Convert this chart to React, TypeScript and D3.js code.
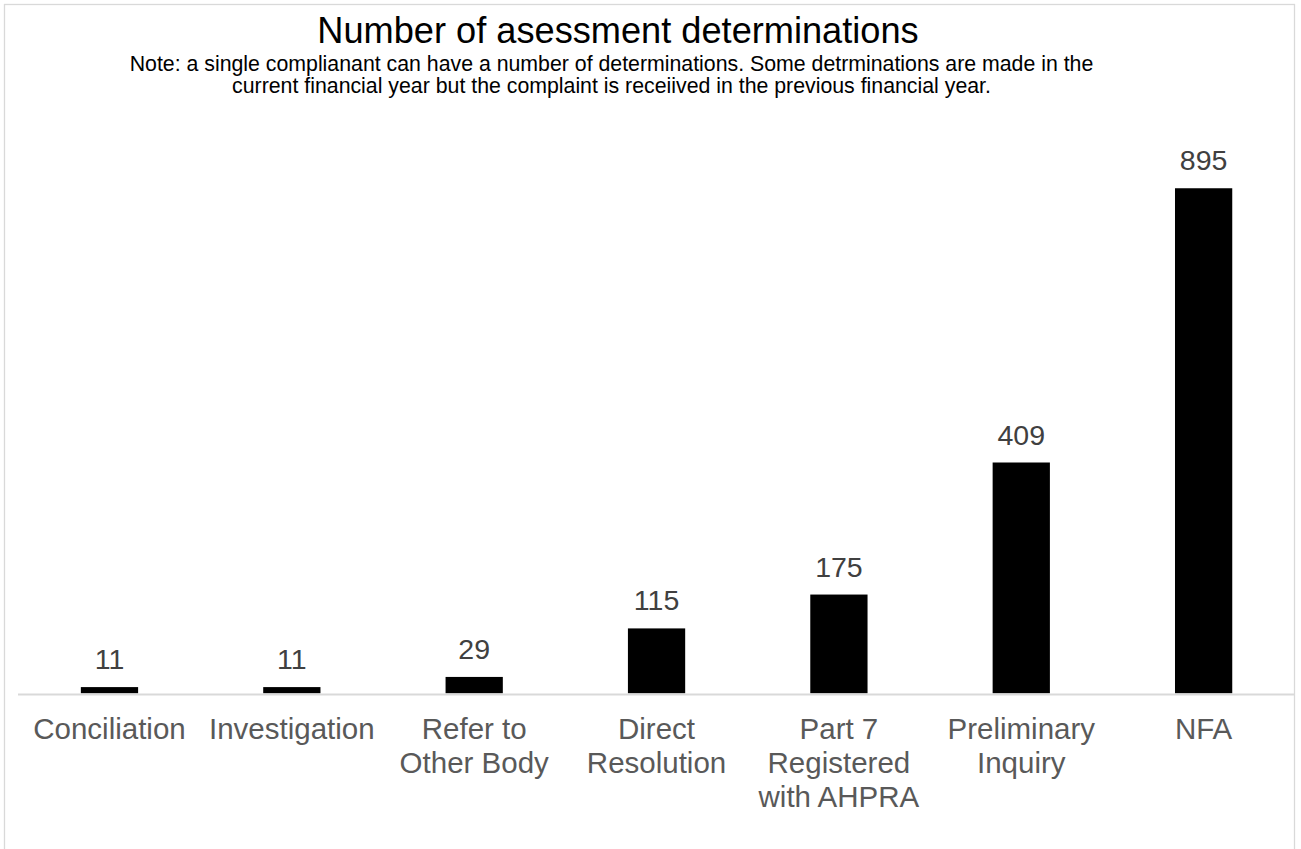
import React from "react";
import * as d3 from "d3";

// Assessment determinations by outcome
const categories: string[] = [
  "Conciliation",
  "Investigation",
  "Refer to\nOther Body",
  "Direct\nResolution",
  "Part 7\nRegistered\nwith AHPRA",
  "Preliminary\nInquiry",
  "NFA",
];
const counts: number[] = [11, 11, 29, 115, 175, 409, 895];

const titleText = "Number of asessment determinations";
const noteLines: string[] = [
  "Note: a single complianant can have a number of determinations. Some detrminations are made in the",
  "current financial year but the complaint is receiived in the previous financial year.",
];

const W = 1301;
const H = 849;
const FONT = "'Liberation Sans', Arial, Helvetica, sans-serif";

export default function App() {
  const x = d3
    .scaleBand<string>()
    .domain(categories)
    .range([18.3, 1294.8])
    .paddingInner(0.686)
    .paddingOuter(0.343);

  const y = d3.scaleLinear().domain([0, 1000]).range([693.3, 129]);

  return (
    <div style={{ position: "absolute", left: 0, top: 0 }}>
      <svg width={W} height={H} style={{ display: "block", background: "#fff" }}>
        {/* chart frame */}
        <rect x={4.5} y={4.5} width={1290} height={H + 20} fill="#fff" stroke="#d9d9d9" strokeWidth={1.3} />

        {/* title block */}
        <text x={618} y={43} textAnchor="middle" fontFamily={FONT} fontSize={36.2} fill="#000">
          {titleText}
        </text>
        {noteLines.map((line, i) => (
          <text
            key={i}
            x={611.5}
            y={70.5 + i * 22.5}
            textAnchor="middle"
            fontFamily={FONT}
            fontSize={21.3}
            fill="#000"
          >
            {line}
          </text>
        ))}

        {/* bars */}
        {categories.map((c, i) => (
          <rect
            key={c}
            x={x(c)}
            y={y(counts[i])}
            width={x.bandwidth()}
            height={y(0) - y(counts[i])}
            fill="#000"
          />
        ))}

        {/* category axis line */}
        <line x1={18} x2={1295} y1={694.5} y2={694.5} stroke="#d9d9d9" strokeWidth={2} />

        {/* value labels */}
        {categories.map((c, i) => (
          <text
            key={"v" + c}
            x={(x(c) as number) + x.bandwidth() / 2}
            y={y(counts[i]) - 18}
            textAnchor="middle"
            fontFamily={FONT}
            fontSize={28.5}
            fill="#404040"
          >
            {counts[i]}
          </text>
        ))}

        {/* category labels */}
        {categories.map((c) => (
          <text
            key={"c" + c}
            textAnchor="middle"
            fontFamily={FONT}
            fontSize={29.5}
            fill="#595959"
          >
            {c.split("\n").map((line, j) => (
              <tspan key={j} x={(x(c) as number) + x.bandwidth() / 2} y={738.5 + j * 34.3}>
                {line}
              </tspan>
            ))}
          </text>
        ))}
      </svg>
    </div>
  );
}
